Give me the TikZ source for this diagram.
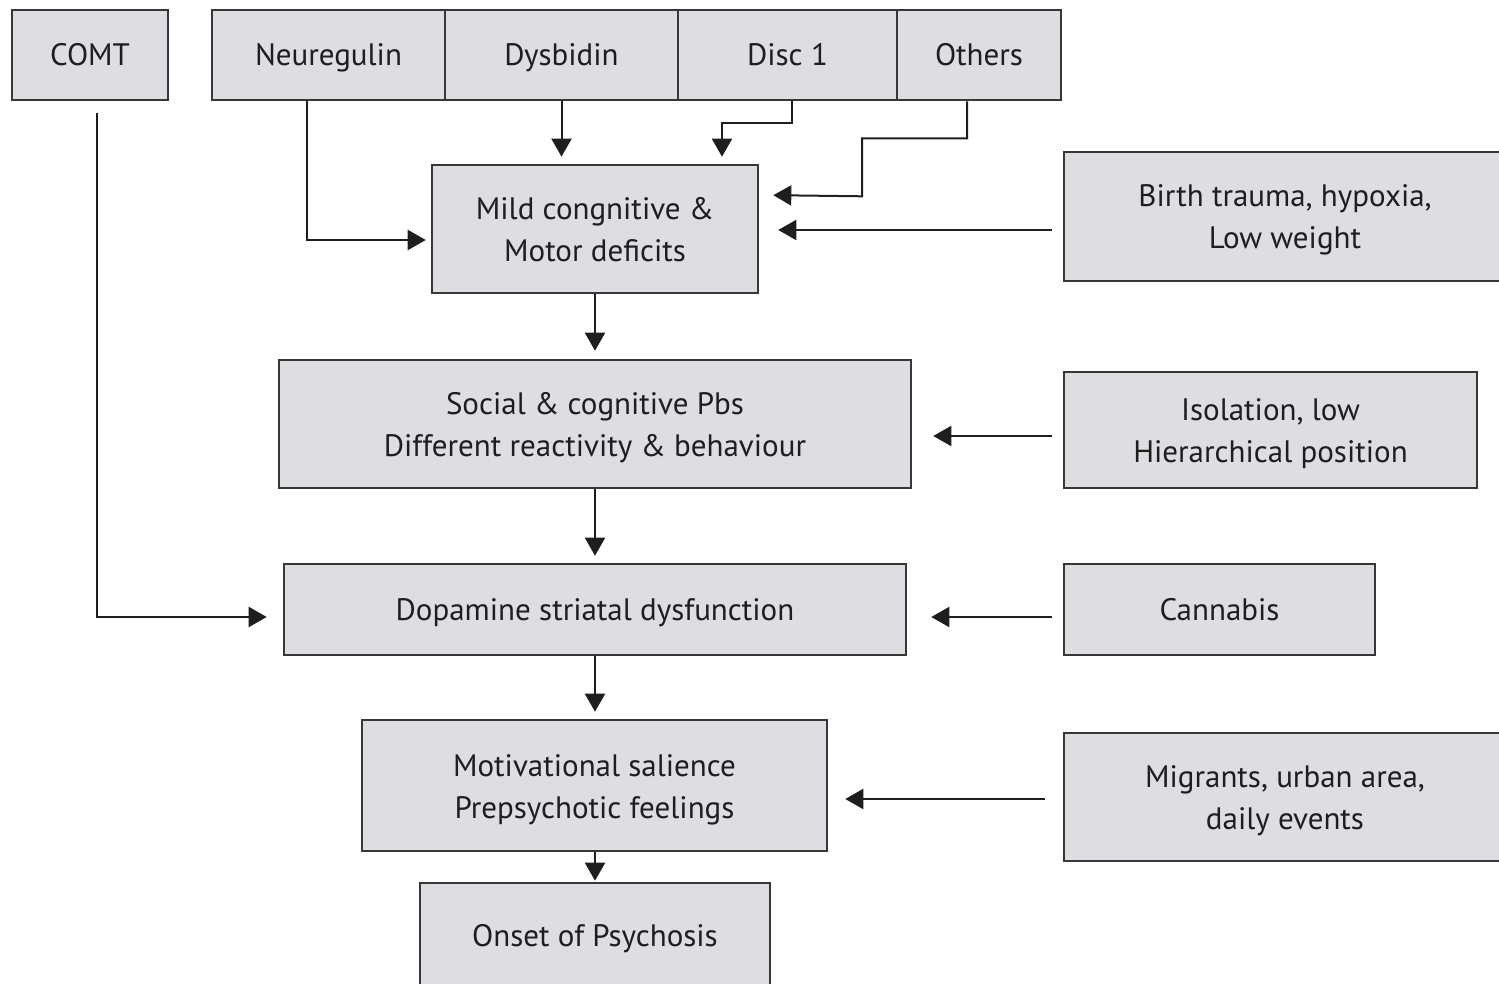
\documentclass[tikz,border=0pt]{standalone}
\usepackage{fontspec}
\setmainfont{PT Sans}
\usetikzlibrary{arrows.meta}
\definecolor{boxfill}{RGB}{221,221,226}
\definecolor{boxline}{RGB}{55,55,55}
\definecolor{inkcol}{RGB}{30,30,30}
\begin{document}
\begin{tikzpicture}[x=1pt,y=-1pt,
  box/.style={draw=boxline,fill=boxfill,line width=2.6pt,rectangle,inner sep=0pt,
    text=inkcol,font=\fontsize{31}{42}\selectfont},
  oneline/.style={text height=21.5pt,text depth=0pt},
  twoline/.style={align=center,text height=65pt,text depth=0pt},
  arr/.style={draw=inkcol,line width=2pt,-{Triangle[length=18pt,width=20pt]}}]
\useasboundingbox (0,0) rectangle (1499,984);
\clip (0,0) rectangle (1499,984);

% gene boxes
\node[box,oneline,minimum width=156,minimum height=90] (comt) at (90,55) {COMT};
\node[box,oneline,minimum width=233,minimum height=90] (neu) at (328.5,55) {Neuregulin};
\node[box,oneline,minimum width=233,minimum height=90] (dys) at (561.5,55) {Dysbidin};
\node[box,oneline,minimum width=219,minimum height=90] (disc) at (787.5,55) {Disc 1};
\node[box,oneline,minimum width=164,minimum height=90] (oth) at (979,55) {Others};

% main chain
\node[box,twoline,minimum width=326,minimum height=128] (mild) at (595,229) {Mild congnitive \&\\Motor deficits};
\node[box,twoline,minimum width=632,minimum height=128] (soc) at (595,424) {Social \& cognitive Pbs\\Different reactivity \& behaviour};
\node[box,oneline,minimum width=622,minimum height=91] (dop) at (595,609.5) {Dopamine striatal dysfunction};
\node[box,twoline,minimum width=465,minimum height=131] (mot) at (594.5,785.5) {Motivational salience\\Prepsychotic feelings};
\node[box,oneline,minimum width=350,minimum height=106] (ons) at (595,936) {Onset of Psychosis};

% environmental factors
\node[box,twoline,minimum width=442,minimum height=129] (birth) at (1285,216.5) {Birth trauma, hypoxia,\\Low weight};
\node[box,twoline,minimum width=413,minimum height=116] (iso) at (1270.5,430) {Isolation, low\\Hierarchical position};
\node[box,oneline,minimum width=311,minimum height=91] (can) at (1219.5,609.5) {Cannabis};
\node[box,twoline,minimum width=442,minimum height=128] (mig) at (1285,797) {Migrants, urban area,\\daily events};

% gene connectors
\draw[arr,shorten <=12pt,shorten >=16pt] ([xshift=7pt]comt.south) |- ([yshift=-7.5pt]dop.west);
\draw[arr,shorten >=5pt] ([xshift=-21.5pt]neu.south) |- ([yshift=-11pt]mild.west);
\draw[arr,shorten >=7pt] (dys.south) -- (mild.north -| dys.south);
\draw[arr,shorten >=7pt] ([xshift=4.5pt]disc.south) -- ++(0,22) -| ([xshift=127pt]mild.north);
\draw[arr,shorten >=14pt] ([xshift=-12pt]oth.south) -- ++(0,37) -| ++(-105,58) -- ([yshift=34pt]mild.east);

% environmental connectors
\draw[arr,shorten <=11pt,shorten >=19pt] ([yshift=-13.5pt]birth.west) -- ([yshift=-1pt]mild.east);
\draw[arr,shorten <=11pt,shorten >=21pt] ([yshift=-6pt]iso.west) -- ([yshift=-12pt]soc.east);
\draw[arr,shorten <=11pt,shorten >=24pt] ([yshift=-7.5pt]can.west) -- ([yshift=-7.5pt]dop.east);
\draw[arr,shorten <=18pt,shorten >=17pt] ([yshift=-2pt]mig.west) -- ([yshift=-13.5pt]mot.east);

% chain connectors
\draw[arr,shorten >=8pt] (mild.south) -- (soc.north);
\draw[arr,shorten >=7pt] (soc.south) -- (dop.north);
\draw[arr,shorten >=7pt] (dop.south) -- (mot.north -| dop.south);
\draw[arr,shorten >=1pt] (mot.south -| ons.north) -- (ons.north);
\end{tikzpicture}
\end{document}
